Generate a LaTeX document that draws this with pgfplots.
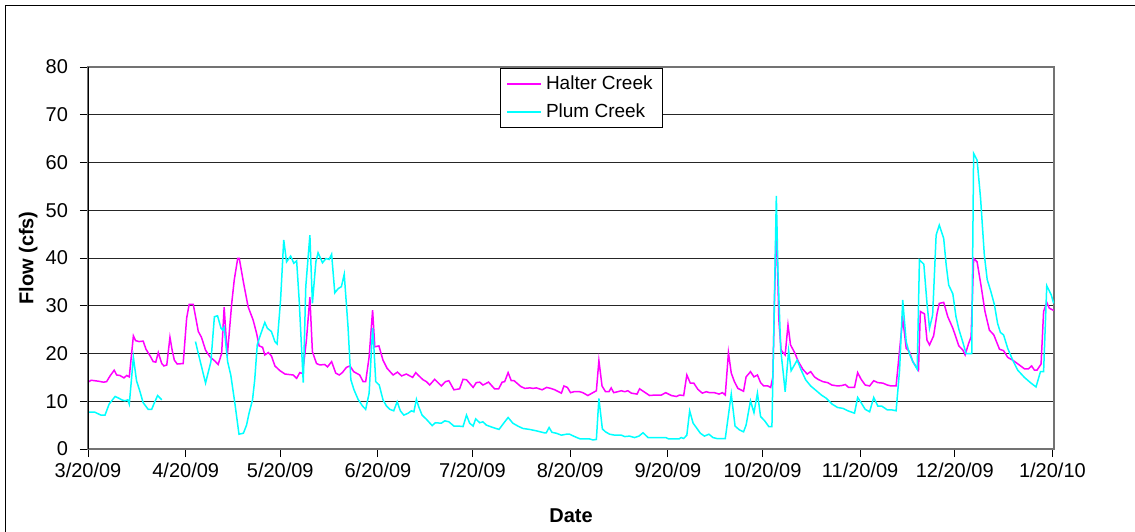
\documentclass[border=0pt]{standalone}
\usepackage{pgfplots}
\pgfplotsset{compat=1.18}
\usepackage{fontspec}
\setmainfont{Liberation Sans}
\definecolor{halter}{RGB}{255,0,255}
\definecolor{plum}{RGB}{0,255,255}

% Daily flow, x = days after 3/20/09
\begin{document}
\begin{tikzpicture}
\useasboundingbox (0pt,0pt) rectangle (567.5pt,265.5pt);
\draw[line width=0.7pt] (2.8pt,-5pt) -- (2.8pt,262.8pt) -- (575pt,262.8pt);
\begin{axis}[
  at={(44pt,41pt)}, anchor=origin,
  scale only axis, width=483pt, height=191pt,
  xmin=0, xmax=306.5, ymin=0, ymax=80,
  ytick={0,10,...,80},
  xtick={0,31,61,92,122,153,184,214,245,275,306},
  xticklabels={3/20/09,4/20/09,5/20/09,6/20/09,7/20/09,8/20/09,9/20/09,10/20/09,11/20/09,12/20/09,1/20/10},
  tick align=outside, major tick length=4pt,
  xtick pos=bottom, ytick pos=left,
  ymajorgrids, grid style={black!85, line width=0.5pt},
  axis line style={black!55, line width=0.8pt},
  tick style={black, line width=0.5pt},
  ticklabel style={font=\fontsize{10}{12}\selectfont},
  yticklabel style={xshift=-2.5pt},
  xticklabel style={yshift=0.5pt},
  /pgf/number format/assume math mode=true,
  every axis x label/.style={at={(axis description cs:0.5,-0.175)}, anchor=center, font=\fontsize{10}{12}\selectfont\bfseries},
  every axis y label/.style={at={(axis description cs:-0.062,0.5)}, anchor=center, rotate=90, font=\fontsize{10}{12}\selectfont\bfseries},
  xlabel={Date}, ylabel={Flow (cfs)},
  unbounded coords=jump,
  legend cell align=left,
  legend style={at={(0.4265,0.997)}, anchor=north west, draw=black, line width=0.5pt,
    fill=white, inner xsep=3pt, inner ysep=1.5pt, row sep=1.5pt,
    font=\fontsize{9.5}{11}\selectfont},
  legend image code/.code={\draw[#1, line width=0.75pt] (0pt,0pt) -- (17pt,0pt);},
]
\addplot[halter, line width=0.75pt] table {
x y
0 14.0
1 14.4
3.3 14.2
4.9 14.0
5.9 14.1
7 15.3
8.3 16.5
9.1 15.5
10.1 15.4
11.4 14.9
12.3 15.4
13.1 15.1
14.4 23.7
15.1 22.7
16.2 22.5
17.5 22.6
18.4 20.9
19.7 19.5
20.7 18.3
21.5 18.2
22.3 20.2
23.4 17.9
24.1 17.4
25 17.6
26 23.4
26.7 20.7
27.4 18.6
28.3 17.8
30.2 17.9
31.3 27.4
32.1 30.3
33.4 30.3
35 24.6
36 23.4
37.3 20.7
38.7 19.3
40.3 18.4
41.3 17.7
42.4 20.0
43.2 29.7
44.2 19.5
45.6 30.5
46.4 35.4
47.5 39.9
48 39.9
49.3 35.0
50.8 29.8
52.4 27.0
53.5 24.2
54.3 21.6
55.4 21.3
56.1 19.7
57.2 20.2
58.2 19.5
59.3 17.4
60.9 16.4
62.5 15.7
65.1 15.5
66.2 14.8
67.2 16.0
68.1 15.8
69.3 22.8
70.4 31.8
71.2 20.4
72.5 17.9
73.6 17.6
75.1 17.7
76 17.2
77.3 18.3
78.6 15.9
79.7 15.5
80.7 16.0
82 17.1
83.1 17.4
84.3 16.2
86.2 15.5
87.3 14.1
88.1 14.1
89.2 19.3
90.3 29.1
91 21.4
92.3 21.6
93.6 18.6
94.9 16.9
96.8 15.5
98.2 16.1
99.5 15.3
101 15.7
103 15.0
104 16.0
104.7 15.5
106.3 14.5
107.4 14.1
108.4 13.4
110 14.6
112.1 13.2
113.4 14.1
114.5 14.3
116.1 12.4
117.9 12.6
119 14.6
120.1 14.5
122.2 12.9
123.2 13.9
124.3 14.0
125.3 13.4
127.1 14.0
129 12.6
130.3 12.6
131.4 14.0
132.2 14.1
133.3 16.0
134.3 14.3
135.2 14.3
137.3 13.1
138.6 12.7
140.2 12.8
141.2 12.7
142.3 12.8
144.1 12.4
145.5 12.9
146.8 12.7
148.1 12.4
150.2 11.7
151 13.2
152.1 12.9
153.1 11.8
154.2 12.0
156 12.0
157 11.8
158.6 11.2
160.2 11.8
161.3 12.2
162.1 18.5
163.1 13.2
164.2 12.0
165.3 12.0
166 12.8
166.8 11.8
168.1 12.0
169.2 12.2
170.3 12.0
171.3 12.2
172.4 11.7
174.2 11.5
175 12.6
176.6 11.9
178.2 11.2
179.8 11.3
181.9 11.3
183.3 11.8
185.1 11.2
186.7 11.0
187.7 11.3
189 11.2
190 15.5
191.1 13.8
192.2 13.8
193.5 12.5
194.9 11.7
196.2 12.0
197.2 11.8
198.8 11.8
200.2 11.5
201.3 11.8
202.2 11.3
203.2 20.2
204.1 15.9
205.1 14.1
206.2 12.7
208 12.1
208.8 15.1
210.2 16.2
211.3 15.1
212.4 15.5
213.4 13.9
214.4 13.2
215.7 13.2
216.6 12.9
217.3 15.1
217.8 30.5
218.4 48.0
219.2 27.0
219.9 20.7
221.2 19.7
222.1 26.0
222.9 21.8
224.2 20.2
225.4 18.3
226.8 16.7
228.2 15.7
229.3 16.2
230.5 15.1
231.6 14.6
233.2 14.1
234.7 13.9
236 13.4
237.9 13.2
239.2 13.3
240.3 13.5
241.3 12.9
243.2 12.9
244.2 16.0
245.3 14.6
246.6 13.4
248 13.2
249.3 14.3
250.6 13.9
252.2 13.8
253.6 13.4
254.8 13.2
256.4 13.2
257.5 20.7
258.5 27.4
259.6 21.1
260.6 20.4
261.7 18.3
263.1 16.9
263.5 16.5
264.1 28.8
265.4 28.3
266.2 22.8
267 21.8
268.3 23.7
269.4 28.4
270.1 30.5
271.5 30.7
272.8 27.7
274.4 25.3
276.3 21.6
277.6 20.7
278.3 19.7
279.4 22.1
280.2 23.5
281 39.9
282.1 39.2
283.4 34.0
284.6 28.8
286 24.9
287.4 23.9
289.2 20.9
290.5 20.6
291.8 19.2
293.4 18.6
295.5 17.6
297.1 16.8
298.4 16.8
299.4 17.4
300.3 16.5
301.1 16.5
302.4 17.8
303.2 28.8
304.2 30.7
305 29.5
306.4 29.0
};
\addlegendentry{Halter Creek}
\addplot[plum, line width=0.75pt] table {
x y
0 7.7
2.2 7.7
4.1 7.1
5.4 7.1
6.7 9.4
8.6 11.0
9.6 10.7
10.7 10.3
11.7 10.1
12.6 10.3
13.1 9.4
14.4 19.2
15.4 14.3
16.5 12.0
17.5 9.7
19.1 8.3
20.2 8.3
21.2 9.9
22.1 11.2
23.4 10.3
28 nan
34.1 22.5
35 20.0
37.3 13.8
39 18.3
40.1 27.7
41.1 27.9
42.2 25.3
42.7 24.9
43.2 25.5
44.3 18.3
45.3 15.5
46.6 9.6
47.9 3.1
49.3 3.3
50.3 5.0
51.1 7.5
52.2 10.3
52.9 14.5
53.7 21.8
54.5 23.5
56.1 26.5
56.9 25.3
58.2 24.6
59.3 22.5
60 22.0
61.1 31.2
62.1 43.8
63 39.2
64.3 40.4
65.3 38.9
66.2 39.4
67 31.2
68.3 13.9
69.1 34.0
70.4 44.8
71.2 30.5
72.3 39.2
73 41.1
74.4 39.0
75.5 39.9
76.5 39.7
77.3 40.8
78.3 32.7
79.4 33.6
80.4 34.0
81.3 36.6
82.5 25.6
83.4 14.5
84.4 12.4
85.7 10.4
87.1 9.0
88.1 8.3
89.2 11.7
90.3 25.3
90.7 21.4
91.3 14.1
92.4 13.4
93.6 10.3
94.7 9.0
95.8 8.3
97 8.0
98.1 9.9
99.1 8.0
100.2 7.1
101.6 7.5
102.6 8.0
103.4 7.8
104.2 10.4
104.9 8.9
106 7.1
107.4 6.2
109.2 4.9
110.2 5.5
112.1 5.4
113.2 5.9
114.5 5.7
116.1 4.8
117.6 4.8
119 4.7
120.1 7.1
121.1 5.4
122.2 4.8
123 6.3
124.3 5.5
125.3 5.7
126.4 5.0
128.5 4.5
130.4 4.1
132 5.5
133.3 6.6
134.8 5.4
136.4 4.8
138 4.3
140.1 4.1
142.3 3.8
144.7 3.4
145.4 3.4
146.3 4.5
147.2 3.5
148.6 3.3
150.2 2.9
151.8 3.1
152.8 3.1
154.4 2.6
156.2 2.1
159.2 2.1
160.2 1.9
161.3 2.0
162.1 10.6
163.2 4.2
164.2 3.6
165.5 3.1
167.1 2.9
169.2 2.9
170.3 2.6
171.8 2.7
173.4 2.4
174.8 2.7
176.1 3.4
177.7 2.4
179.8 2.4
183.3 2.4
184.3 2.1
187.5 2.1
188.2 2.4
189 2.2
190 2.9
190.9 8.0
192 5.4
193 4.5
194.3 3.3
195.6 2.7
197 3.1
198.3 2.4
199.5 2.2
202.2 2.2
203.2 7.1
204.1 11.5
205.3 4.8
206.7 4.0
208 3.6
208.8 5.0
210.2 10.1
211.3 7.6
212.4 11.7
213.4 6.8
214.7 5.9
216 4.7
217 4.7
217.6 24.9
218.4 53.0
218.9 37.5
219.8 20.7
220.5 16.5
221.2 12.0
222.3 20.6
223.1 16.4
225 18.6
226.3 16.5
227.7 14.5
229.3 13.2
231.1 12.2
232.7 11.3
234.3 10.6
236.1 9.4
237.8 8.7
239.6 8.5
241.1 8.0
243.2 7.5
244.2 10.8
245.3 9.7
246.6 8.3
248 7.8
249.3 10.8
250.6 9.0
251.8 9.0
253.6 8.2
255 8.2
256.4 8.0
257.5 16.5
258.5 31.2
259.6 22.5
260.6 20.0
261.7 18.3
263.1 16.7
263.8 39.6
265.2 38.7
266.2 30.5
267 25.3
268 28.1
269.1 44.8
270.1 46.9
271.5 44.1
272.3 38.5
273.1 34.3
274.4 32.5
275.4 27.7
276.3 25.1
277.6 22.3
278.6 20.0
280.4 20.0
281 61.9
282.1 60.5
283.2 52.5
284.4 40.6
285.3 35.5
286.5 32.9
287.6 30.2
288.6 26.3
289.5 24.4
290.5 23.9
291.8 21.1
293.4 18.6
295 16.5
297.1 15.0
299.2 13.8
300.8 13.0
302.2 16.2
303.2 16.2
304.2 34.2
305.6 32.3
306.4 30.5
};
\addlegendentry{Plum Creek}
\draw[black, line width=0.8pt] (rel axis cs:0,0) -- (rel axis cs:0,1);
\end{axis}
\end{tikzpicture}
\end{document}
